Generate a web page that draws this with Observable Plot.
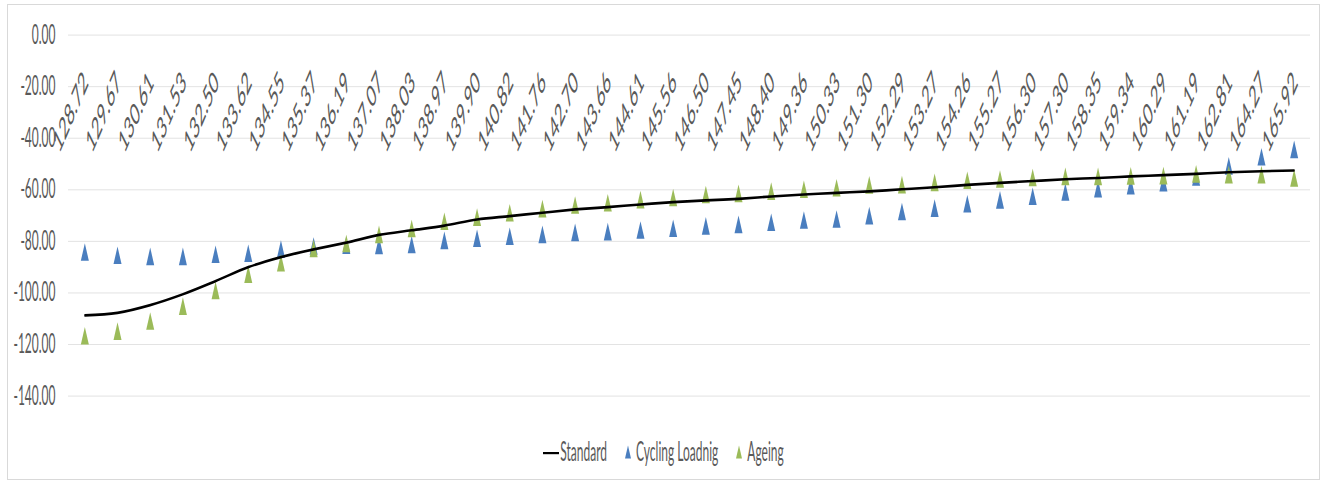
<!DOCTYPE html>
<html>
<head>
<meta charset="utf-8">
<script src="https://cdn.jsdelivr.net/npm/d3@7"></script>
<script src="https://cdn.jsdelivr.net/npm/@observablehq/plot@0.6"></script>
<style>
  html, body { margin: 0; padding: 0; background: #fff; }
  #frame {
    position: absolute; left: 7px; top: 4px; width: 1313px; height: 476px;
    box-sizing: border-box; border: 1px solid #d9d9d9; background: #fff;
  }
  #chart { position: absolute; left: 0; top: 0; }
  #legend {
    position: absolute; left: 0; right: 0; top: 440px; height: 14px; line-height: 14px;
    display: flex; justify-content: center; align-items: center;
    font-family: Lato, sans-serif; font-size: 12px; color: #595959;
    transform: scaleY(2.2); transform-origin: 50% 50%;
  }
  .item { display: flex; align-items: center; margin: 0 9px; }
  .ln { display: inline-block; width: 16px; height: 0; border-top: 1px solid #000; margin-right: 1px; }
  .tri { display: inline-block; width: 0; height: 0; border-left: 3px solid transparent; border-right: 3px solid transparent; margin-right: 5px; margin-top: -1px; }
</style>
</head>
<body>
<div id="frame">
  <div id="chart"></div>
  <div id="legend"></div>
</div>
<script>
// ---- data ----
const categories = ["128.72","129.67","130.61","131.53","132.50","133.62","134.55","135.37","136.19","137.07","138.03","138.97","139.90","140.82","141.76","142.70","143.66","144.61","145.56","146.50","147.45","148.40","149.36","150.33","151.30","152.29","153.27","154.26","155.27","156.30","157.30","158.35","159.34","160.29","161.19","162.81","164.27","165.92"];
const standard = [-108.7,-107.7,-104.7,-100.5,-95.4,-90.0,-86.1,-83.1,-80.5,-77.5,-75.7,-73.9,-71.5,-70.2,-68.9,-67.6,-66.7,-65.7,-64.8,-64.1,-63.5,-62.6,-61.8,-61.2,-60.6,-59.8,-59.0,-58.1,-57.3,-56.6,-55.9,-55.4,-54.8,-54.3,-53.8,-53.2,-52.8,-52.5];
const cyclingLoading = [-84.1,-85.4,-85.8,-85.8,-85.0,-84.6,-83.0,-81.8,-81.5,-81.6,-81.2,-79.6,-78.8,-78.0,-77.3,-76.5,-76.2,-75.6,-74.9,-74.0,-73.4,-72.6,-71.7,-71.3,-70.0,-68.4,-67.1,-65.4,-63.9,-62.5,-60.8,-59.6,-58.4,-57.2,-55.0,-50.7,-47.2,-44.3];
const ageing = [-116.6,-114.8,-110.9,-105.1,-99.0,-92.7,-88.3,-82.7,-80.8,-77.3,-75.0,-72.2,-70.6,-68.9,-67.3,-65.9,-65.0,-63.8,-63.0,-61.8,-61.4,-60.5,-59.8,-59.2,-58.1,-58.0,-57.1,-56.3,-55.8,-55.2,-54.8,-54.8,-54.6,-54.5,-53.8,-54.1,-54.1,-55.4];
const yTicks = [0,-20,-40,-60,-80,-100,-120,-140];
const seriesNames = ["Standard","Cycling Loadnig","Ageing"];
const colors = {standard: "#000000", cycling: "#4a7ebf", ageing: "#9bbb59"};

// ---- build ----
const S = 2.2;              // vertical stretch of the original picture
const W = 1311, H = 420, h0 = H / S;
const data = categories.map((c, i) => ({cat: c, standard: standard[i], cycling: cyclingLoading[i], ageing: ageing[i]}));
const tri = (w, h) => ({draw(ctx) { ctx.moveTo(0, -h / 2); ctx.lineTo(w / 2, h / 2); ctx.lineTo(-w / 2, h / 2); ctx.closePath(); }});

const chart = Plot.plot({
  width: W, height: h0,
  marginLeft: 60, marginRight: 9, marginTop: 29 / S, marginBottom: h0 - 390 / S,
  x: {type: "point", domain: categories, padding: 0.5, round: false, label: null},
  y: {domain: [-140, 0], label: null},
  style: {fontFamily: "Lato, sans-serif", fontSize: "12px", color: "#595959", background: "transparent", overflow: "visible"},
  marks: [
    Plot.gridY(yTicks, {stroke: "#d9d9d9", strokeOpacity: 1, strokeWidth: 1 / S}),
    Plot.axisY(yTicks, {tickSize: 0, tickPadding: 13, tickFormat: d => d.toFixed(2), fill: "#595959"}),
    Plot.axisX({anchor: "top", tickSize: 0, tickPadding: 0, tickRotate: -47, textAnchor: "end", lineAnchor: "middle", dx: 1, dy: 19, fontSize: 14, fill: "#595959"}),
    Plot.dot(data, {x: "cat", y: "cycling", symbol: tri(8, 8), fill: colors.cycling}),
    Plot.dot(data, {x: "cat", y: "ageing", symbol: tri(8, 8), fill: colors.ageing}),
    Plot.line(data, {x: "cat", y: "standard", stroke: colors.standard, strokeWidth: 1.2, curve: "monotone-x"})
  ]
});
chart.setAttribute("height", H);
chart.setAttribute("preserveAspectRatio", "none");
chart.style.width = W + "px";
chart.style.height = H + "px";
chart.style.maxWidth = "none";
document.getElementById("chart").appendChild(chart);

// ---- legend ----
const legend = document.getElementById("legend");
const sym = [
  '<span class="ln"></span>',
  `<span class="tri" style="border-bottom:6px solid ${colors.cycling}"></span>`,
  `<span class="tri" style="border-bottom:6px solid ${colors.ageing}"></span>`
];
seriesNames.forEach((n, i) => {
  const it = document.createElement("span");
  it.className = "item";
  it.innerHTML = sym[i] + `<span>${n}</span>`;
  legend.appendChild(it);
});
</script>
</body>
</html>
